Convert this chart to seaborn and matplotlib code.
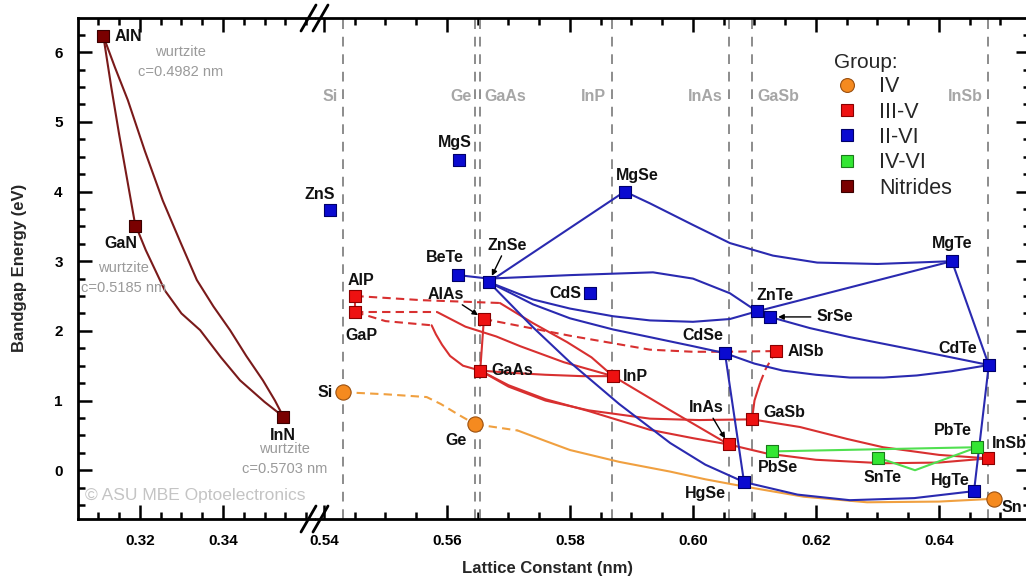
import matplotlib
matplotlib.use("Agg")
import matplotlib.pyplot as plt
from matplotlib.lines import Line2D
from matplotlib.ticker import MultipleLocator, FormatStrFormatter
import seaborn as sns
import pandas as pd

sns.set_theme(style="white")
plt.rcParams["font.family"] = ["Liberation Sans", "DejaVu Sans"]

# ---------------- binary compounds: lattice constant (nm), bandgap (eV) ----------------
nitride_names = ["AlN", "GaN", "InN"]
nitride_a = [0.3112, 0.3189, 0.3545]
nitride_eg = [6.23, 3.51, 0.77]

iv_names = ["Si", "Ge", "Sn"]
iv_a = [0.5431, 0.5646, 0.6489]
iv_eg = [1.12, 0.66, -0.41]

iii_v_names = ["AlP", "GaP", "AlAs", "GaAs", "InP", "AlSb", "GaSb", "InAs", "InSb"]
iii_v_a = [0.5451, 0.5451, 0.5660, 0.5654, 0.5870, 0.6135, 0.6096, 0.6058, 0.6480]
iii_v_eg = [2.50, 2.27, 2.17, 1.43, 1.35, 1.71, 0.73, 0.37, 0.17]

ii_vi_names = ["ZnS", "MgS", "BeTe", "ZnSe", "CdS", "MgSe", "CdSe", "HgSe",
               "ZnTe", "SrSe", "MgTe", "CdTe", "HgTe"]
ii_vi_a = [0.5409, 0.5620, 0.5618, 0.5668, 0.5832, 0.5889, 0.6052, 0.6083,
           0.6104, 0.6125, 0.6421, 0.6481, 0.6457]
ii_vi_eg = [3.73, 4.45, 2.80, 2.70, 2.54, 4.00, 1.68, -0.17,
            2.28, 2.20, 3.00, 1.51, -0.30]

iv_vi_names = ["PbSe", "SnTe", "PbTe"]
iv_vi_a = [0.6128, 0.6301, 0.6462]
iv_vi_eg = [0.27, 0.18, 0.33]

# common substrates (vertical reference lines)
substrate_names = ["Si", "Ge", "GaAs", "InP", "InAs", "GaSb", "InSb"]
substrate_a = [0.5431, 0.5646, 0.5653, 0.5869, 0.6058, 0.6096, 0.6479]

# ---------------- alloy curves (a, Eg) ----------------
AlN_GaN = [(0.3112, 6.23), (0.3131, 5.50), (0.3150, 4.82), (0.3170, 4.15), (0.3189, 3.51)]
GaN_InN = [(0.3190, 3.51), (0.3214, 3.16), (0.3260, 2.58), (0.3300, 2.25),
           (0.3345, 2.01), (0.3395, 1.62), (0.3441, 1.29), (0.3500, 0.98), (0.3545, 0.77)]
AlN_InN = [(0.3112, 6.23), (0.3140, 5.78), (0.3171, 5.31), (0.3212, 4.58), (0.3255, 3.87),
           (0.3297, 3.28), (0.3337, 2.73), (0.3377, 2.35), (0.3417, 2.01),
           (0.3456, 1.64), (0.3496, 1.29), (0.3525, 1.00), (0.3545, 0.77)]

Si_Ge_ind = [(0.5431, 1.12), (0.5500, 1.09), (0.5567, 1.05), (0.5590, 0.95),
             (0.5620, 0.79), (0.5646, 0.66)]
Ge_Sn_ind = [(0.5646, 0.66), (0.5715, 0.57)]
Ge_Sn = [(0.5715, 0.57), (0.5760, 0.42), (0.5800, 0.29), (0.5880, 0.12), (0.5963, -0.02),
         (0.6020, -0.13), (0.6081, -0.23), (0.6180, -0.38), (0.6283, -0.46),
         (0.6400, -0.45), (0.6489, -0.41)]

AlP_GaP = [(0.5451, 2.50), (0.5451, 2.27)]
AlP_InP_ind = [(0.5451, 2.50), (0.5560, 2.44), (0.5686, 2.40)]
AlP_InP = [(0.5686, 2.40), (0.5740, 2.11), (0.5795, 1.84), (0.5835, 1.62), (0.5870, 1.35)]
GaP_InP_ind = [(0.5451, 2.27), (0.5584, 2.27)]
GaP_InP = [(0.5584, 2.27), (0.5630, 2.06), (0.5680, 1.92), (0.5719, 1.78),
           (0.5790, 1.55), (0.5870, 1.35)]
GaP_GaAs_ind = [(0.5451, 2.27), (0.5500, 2.14), (0.5575, 2.08)]
GaP_GaAs = [(0.5575, 2.08), (0.5582, 1.95), (0.5592, 1.80), (0.5605, 1.64),
            (0.5626, 1.50), (0.5654, 1.43)]
GaAs_InP = [(0.5654, 1.43), (0.5700, 1.40), (0.5760, 1.37), (0.5820, 1.35), (0.5870, 1.35)]
AlAs_GaAs = [(0.5660, 2.17), (0.5657, 1.80), (0.5654, 1.43)]
AlAs_AlSb_ind = [(0.5660, 2.17), (0.5800, 1.93), (0.5930, 1.73), (0.6000, 1.70),
                 (0.6052, 1.70), (0.6135, 1.71)]
GaAs_InAs = [(0.5654, 1.43), (0.5700, 1.22), (0.5760, 1.02), (0.5830, 0.85),
             (0.5930, 0.58), (0.6000, 0.46), (0.6058, 0.37)]
GaAs_GaSb = [(0.5654, 1.43), (0.5700, 1.20), (0.5760, 1.00), (0.5830, 0.86),
             (0.5930, 0.74), (0.6010, 0.72), (0.6096, 0.73)]
InP_InAs = [(0.5870, 1.35), (0.5963, 0.86), (0.6058, 0.37)]
InAs_InSb = [(0.6058, 0.37), (0.6120, 0.24), (0.6200, 0.15), (0.6309, 0.10),
             (0.6400, 0.11), (0.6480, 0.17)]
GaSb_InSb = [(0.6096, 0.73), (0.6174, 0.62), (0.6250, 0.45), (0.6309, 0.33),
             (0.6400, 0.22), (0.6480, 0.17)]
AlSb_GaSb_ind = [(0.6135, 1.71), (0.6118, 1.45), (0.6109, 1.25)]
AlSb_GaSb = [(0.6109, 1.25), (0.6100, 1.00), (0.6096, 0.73)]

BeTe_ZnTe = [(0.5618, 2.80), (0.5668, 2.75), (0.5800, 2.80), (0.5935, 2.84),
             (0.6000, 2.75), (0.6060, 2.54), (0.6104, 2.28)]
ZnSe_MgSe = [(0.5668, 2.70), (0.5889, 4.00)]
MgSe_MgTe = [(0.5889, 4.00), (0.5930, 3.83), (0.6000, 3.52), (0.6060, 3.26),
             (0.6130, 3.08), (0.6202, 2.98), (0.6300, 2.96), (0.6421, 3.00)]
ZnTe_MgTe = [(0.6104, 2.28), (0.6421, 3.00)]
ZnTe_CdTe = [(0.6104, 2.28), (0.6125, 2.20), (0.6190, 2.04), (0.6255, 1.91),
             (0.6364, 1.72), (0.6481, 1.51)]
ZnSe_ZnTe = [(0.5668, 2.70), (0.5740, 2.45), (0.5800, 2.32), (0.5870, 2.21),
             (0.5930, 2.15), (0.6000, 2.13), (0.6060, 2.17), (0.6104, 2.28)]
ZnSe_CdSe = [(0.5668, 2.70), (0.5740, 2.38), (0.5800, 2.18), (0.5870, 2.02),
             (0.5930, 1.91), (0.6000, 1.78), (0.6052, 1.68)]
CdSe_CdTe = [(0.6052, 1.68), (0.6100, 1.53), (0.6146, 1.43), (0.6200, 1.37),
             (0.6255, 1.33), (0.6310, 1.33), (0.6364, 1.36), (0.6420, 1.42), (0.6481, 1.51)]
CdSe_HgSe = [(0.6052, 1.68), (0.6083, -0.17)]
ZnSe_HgSe = [(0.5668, 2.70), (0.5740, 2.05), (0.5800, 1.55), (0.5880, 0.95),
             (0.5963, 0.39), (0.6020, 0.08), (0.6083, -0.17)]
HgSe_HgTe = [(0.6083, -0.17), (0.6170, -0.35), (0.6255, -0.43), (0.6360, -0.40),
             (0.6457, -0.30)]
MgTe_CdTe = [(0.6421, 3.00), (0.6481, 1.51)]
CdTe_HgTe = [(0.6481, 1.51), (0.6457, -0.30)]

PbSe_PbTe = [(0.6128, 0.27), (0.6462, 0.33)]
SnTe_PbTe = [(0.6301, 0.18), (0.6361, 0.00), (0.6462, 0.33)]

# ---------------- styling ----------------
marker_color = {"IV": "#F58A1F", "III-V": "#EE1111", "II-VI": "#0A0AD0",
                "IV-VI": "#33E633", "Nitrides": "#7A0000"}
edge_color = {"IV": "#9A5010", "III-V": "#8A0000", "II-VI": "#00006A",
              "IV-VI": "#1A7A1A", "Nitrides": "#3A0000"}
line_color = {"IV": "#F0A040", "III-V": "#D83030", "II-VI": "#2A2AB0",
              "IV-VI": "#50E050", "Nitrides": "#7A1A1A"}

W, H = 1026, 585
fig = plt.figure(figsize=(W / 100, H / 100), dpi=100)
ax_l = fig.add_axes([78 / W, 66 / H, 236 / W, 501 / H])
ax_r = fig.add_axes([316 / W, 66 / H, 714 / W, 501 / H])
ax_l.set_xlim(0.3051, 0.3619)
ax_r.set_xlim(0.5387, 0.6548)
for ax in (ax_l, ax_r):
    ax.set_ylim(-0.7, 6.49)
    ax.patch.set_visible(False)

def draw_curve(ax, pts, group, dashed=False):
    df = pd.DataFrame(pts, columns=["a", "eg"])
    sns.lineplot(data=df, x="a", y="eg", ax=ax, sort=False, estimator=None,
                 color=line_color[group], lw=1.5,
                 linestyle=(0, (4, 2.5)) if dashed else "-", zorder=3)

# vertical substrate reference lines
for a in substrate_a:
    ax_r.axvline(a, color="#8C8C8C", lw=1.4, ls=(0, (5, 4)), zorder=1)

for pts in (AlN_GaN, GaN_InN, AlN_InN):
    draw_curve(ax_l, pts, "Nitrides")

draw_curve(ax_r, Si_Ge_ind, "IV", True)
draw_curve(ax_r, Ge_Sn_ind, "IV", True)
draw_curve(ax_r, Ge_Sn, "IV")

for pts in (AlP_InP_ind, GaP_InP_ind, GaP_GaAs_ind, AlAs_AlSb_ind, AlSb_GaSb_ind):
    draw_curve(ax_r, pts, "III-V", True)
for pts in (AlP_GaP, AlP_InP, GaP_InP, GaP_GaAs, GaAs_InP, AlAs_GaAs, GaAs_InAs,
            GaAs_GaSb, InP_InAs, InAs_InSb, GaSb_InSb, AlSb_GaSb):
    draw_curve(ax_r, pts, "III-V")

for pts in (BeTe_ZnTe, ZnSe_MgSe, MgSe_MgTe, ZnTe_MgTe, ZnTe_CdTe, ZnSe_ZnTe,
            ZnSe_CdSe, CdSe_CdTe, CdSe_HgSe, ZnSe_HgSe, HgSe_HgTe, MgTe_CdTe, CdTe_HgTe):
    draw_curve(ax_r, pts, "II-VI")

for pts in (PbSe_PbTe, SnTe_PbTe):
    draw_curve(ax_r, pts, "IV-VI")

# compound markers
def draw_points(ax, a, eg, group, marker="s", size=80):
    sns.scatterplot(x=a, y=eg, ax=ax, marker=marker, s=size, color=marker_color[group],
                    edgecolor=edge_color[group], linewidth=0.8, zorder=5, legend=False)

draw_points(ax_l, nitride_a, nitride_eg, "Nitrides")
draw_points(ax_r, iv_a, iv_eg, "IV", marker="o", size=120)
draw_points(ax_r, iii_v_a, iii_v_eg, "III-V")
draw_points(ax_r, ii_vi_a, ii_vi_eg, "II-VI")
draw_points(ax_r, iv_vi_a, iv_vi_eg, "IV-VI")

# compound labels: offset in pixels and alignment
label_layout = {
    "AlN": (11, 0, "left"), "GaN": (-14, -18, "center"), "InN": (0, -19, "center"),
    "Si": (-10, 0, "right"), "Ge": (-19, -16, "center"), "Sn": (8, -9, "left"),
    "AlP": (-8, 16, "left"), "GaP": (-10, -23, "left"), "GaAs": (11, 0, "left"),
    "InP": (10, 0, "left"), "GaSb": (11, 7, "left"), "AlSb": (12, 0, "left"),
    "InSb": (4, 15, "left"),
    "ZnS": (-10, 16, "center"), "MgS": (-4, 18, "center"), "BeTe": (-13, 18, "center"),
    "CdS": (-8, 0, "right"), "MgSe": (13, 16, "center"), "MgTe": (0, 18, "center"),
    "ZnTe": (0, 16, "left"), "CdSe": (-22, 18, "center"), "CdTe": (-31, 17, "center"),
    "HgSe": (-39, -11, "center"), "HgTe": (-24, 11, "center"),
    "PbSe": (6, -16, "center"), "SnTe": (4, -20, "center"), "PbTe": (-24, 17, "center"),
}
label_font = dict(fontsize=11.5, fontweight="bold", color="#111111")

def label_points(ax, names, a, eg):
    for n, x, y in zip(names, a, eg):
        if n not in label_layout:
            continue
        dx, dy, ha = label_layout[n]
        ax.annotate(n, (x, y), xytext=(dx, dy), textcoords="offset pixels",
                    ha=ha, va="center", zorder=6, **label_font)

label_points(ax_l, nitride_names, nitride_a, nitride_eg)
for names, a, eg in ((iv_names, iv_a, iv_eg), (iii_v_names, iii_v_a, iii_v_eg),
                     (ii_vi_names, ii_vi_a, ii_vi_eg), (iv_vi_names, iv_vi_a, iv_vi_eg)):
    label_points(ax_r, names, a, eg)

# labels with arrows
arrow_props = dict(arrowstyle="-|>", color="black", lw=1.0, mutation_scale=8,
                   shrinkA=0, shrinkB=5)
ax_r.annotate("ZnSe", (0.5668, 2.70), xytext=(18, 37), textcoords="offset pixels",
              ha="center", va="center", arrowprops=arrow_props, **label_font)
ax_r.annotate("AlAs", (0.5660, 2.17), xytext=(-38, 25), textcoords="offset pixels",
              ha="center", va="center", arrowprops=arrow_props, **label_font)
ax_r.annotate("InAs", (0.6058, 0.37), xytext=(-22, 37), textcoords="offset pixels",
              ha="center", va="center", arrowprops=arrow_props, **label_font)
ax_r.annotate("SrSe", (0.6125, 2.20), xytext=(47, 0), textcoords="offset pixels",
              ha="left", va="center",
              arrowprops=dict(arrowstyle="-|>", color="black", lw=1.0, mutation_scale=8,
                              shrinkA=2, shrinkB=6), **label_font)

# wurtzite notes for the nitrides
note_font = dict(fontsize=10.5, color="#9A9A9A", ha="center", va="center")
wurtzite_c = ["0.4982", "0.5185", "0.5703"]
note_offsets = [(77, -26), (-12, -52), (1, -42)]
for x, y, c, (dx, dy) in zip(nitride_a, nitride_eg, wurtzite_c, note_offsets):
    ax_l.annotate("wurtzite\nc=%s nm" % c, (x, y), xytext=(dx, dy),
                  textcoords="offset pixels", linespacing=1.55,
                  annotation_clip=False, zorder=6, **note_font)

# substrate names
sub_layout = {"Si": (-5, "right"), "Ge": (-4, "right"), "GaAs": (5, "left"),
              "InP": (-6, "right"), "InAs": (-6, "right"), "GaSb": (5, "left"),
              "InSb": (-5, "right")}
for n, a in zip(substrate_names, substrate_a):
    dx, ha = sub_layout[n]
    ax_r.annotate(n, (a, 5.37), xytext=(dx, 0), textcoords="offset pixels", ha=ha,
                  va="center", fontsize=11.5, fontweight="bold", color="#A6A6A6")

ax_l.text(0.3067, -0.36, "\u00a9 ASU MBE Optoelectronics", fontsize=12.5,
          color="#C4C4C4", va="center", ha="left")

# axes, ticks, spines
for ax in (ax_l, ax_r):
    ax.yaxis.set_major_locator(MultipleLocator(1))
    ax.yaxis.set_minor_locator(MultipleLocator(0.25))
    ax.xaxis.set_major_locator(MultipleLocator(0.02))
    ax.xaxis.set_minor_locator(MultipleLocator(0.005))
    ax.xaxis.set_major_formatter(FormatStrFormatter("%.2f"))
    ax.yaxis.set_major_formatter(FormatStrFormatter("%d"))
    ax.tick_params(which="both", direction="in", top=True, right=True, left=True,
                   bottom=True, colors="black", width=1.8)
    ax.tick_params(which="major", length=10, labelsize=11, pad=11)
    ax.tick_params(which="minor", length=5)
    for s in ax.spines.values():
        s.set_linewidth(2.0)
        s.set_color("black")
    ax.set_xlabel("")
    ax.set_ylabel("")
    ax.grid(False)

ax_l.spines["right"].set_visible(False)
ax_l.tick_params(which="both", right=False)
ax_r.spines["left"].set_visible(False)
ax_r.tick_params(which="both", left=False, labelleft=False)
ax_l.set_xticks([0.32, 0.34])
ax_r.set_xticks([0.54, 0.56, 0.58, 0.60, 0.62, 0.64])
for lbl in ax_l.get_xticklabels() + ax_r.get_xticklabels() + ax_l.get_yticklabels():
    lbl.set_fontweight("bold")

# axis break marks
for yb in (519, 18):
    for xo in (0, 12):
        fig.add_artist(Line2D([(301 + xo) / W, (316 + xo) / W],
                              [1 - (yb + 13) / H, 1 - (yb - 13) / H],
                              color="black", lw=2.0))

fig.text(547 / W, 1 - 569 / H, "Lattice Constant (nm)", ha="center", va="center",
         fontsize=12, fontweight="bold")
fig.text(20 / W, 1 - 268 / H, "Bandgap Energy (eV)", ha="center", va="center",
         rotation=90, fontsize=12, fontweight="bold")

# legend
handles = [Line2D([], [], ls="", marker="o" if g == "IV" else "s",
                  markersize=10 if g == "IV" else 9,
                  markerfacecolor=marker_color[g], markeredgecolor=edge_color[g],
                  markeredgewidth=0.8, label=g)
           for g in ["IV", "III-V", "II-VI", "IV-VI", "Nitrides"]]
leg = fig.legend(handles=handles, title="Group:", loc="upper left",
                 bbox_to_anchor=(834 / W, 1 - 53 / H), frameon=False, fontsize=15.5,
                 title_fontsize=15, labelspacing=0.2, handletextpad=0.9,
                 handlelength=1.2, borderpad=0, borderaxespad=0)
leg._legend_box.align = "left"

fig.savefig("out.png", dpi=100, facecolor="white")
